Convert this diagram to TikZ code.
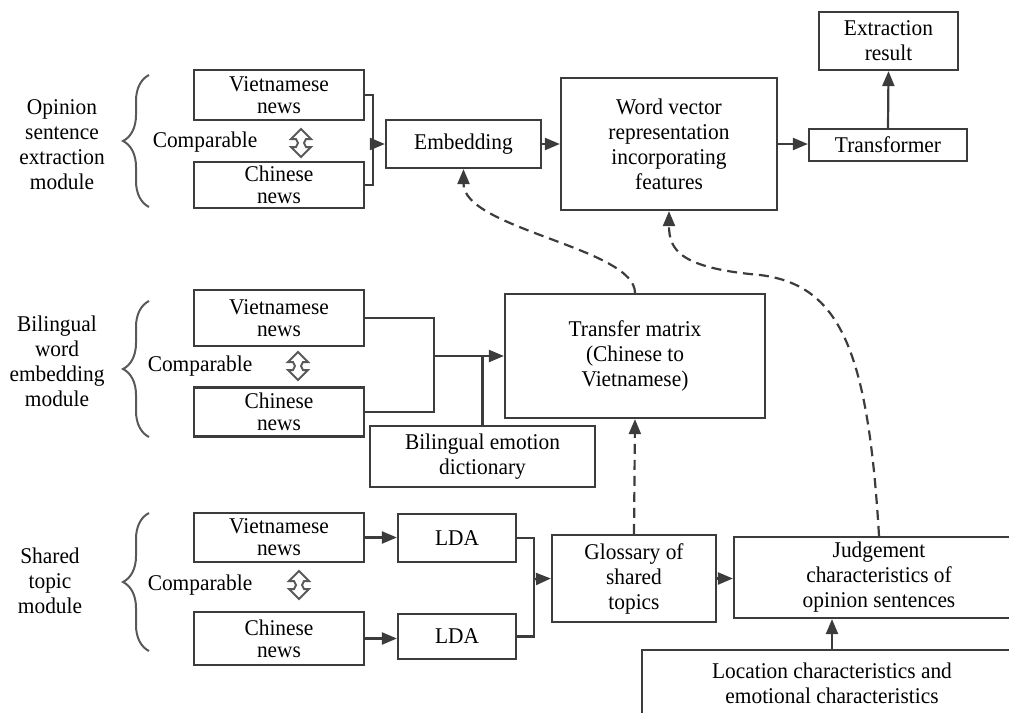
\documentclass[tikz,border=0pt]{standalone}
\usepackage{fontspec}
\setmainfont{Liberation Serif}[FakeStretch=0.95]
\usetikzlibrary{arrows.meta,decorations.pathreplacing,calc}
\definecolor{lc}{HTML}{3C3C3C}
\begin{document}
\begin{tikzpicture}[x=1pt,y=1pt,
  font=\fontsize{22.5}{25}\selectfont,
  box/.style={draw=lc,line width=2.2pt,align=center,inner sep=0pt},
  newsbox/.style={box,minimum width=170,font=\fontsize{22.5}{22}\selectfont},
  lab/.style={align=center,inner sep=0pt},
  conn/.style={draw=lc,line width=2.2pt},
  arr/.style={conn,-{Triangle[length=15pt,width=12pt]}},
  dasharr/.style={arr,dash pattern=on 10pt off 6pt},
  brc/.style={draw=lc!85,line width=2pt,decorate,decoration={brace,amplitude=26pt}},
  cmp/.pic={\draw[draw=lc!85,line width=2pt,line join=miter]
      (0,14)--(10,4)--(5,4)--(3,0)--(5,-4)--(10,-4)--(0,-14)--(-10,-4)--(-5,-4)--(-3,0)--(-5,4)--(-10,4)--cycle;}
]
\useasboundingbox (0,0) rectangle (1009,-712);
\clip (0,0) rectangle (1009,-712);

% ---------- module labels and braces
\node[lab] (lab1) at (62,-145) {Opinion\\sentence\\extraction\\module};
\node[lab] (lab2) at (57,-361) {Bilingual\\word\\embedding\\module};
\node[lab] (lab3) at (50,-581) {Shared\\topic\\module};
\draw[brc] (149,-207) -- (149,-75);
\draw[brc] (149,-437) -- (149,-301);
\draw[brc] (149,-651) -- (149,-513);

% ---------- comparable
\node[lab] (cp1) at (205,-142) {Comparable};
\node[lab] (cp2) at (200,-366) {Comparable};
\node[lab] (cp3) at (200,-585) {Comparable};
\pic at (301,-143) {cmp};
\pic at (298,-366) {cmp};
\pic at (299,-585) {cmp};

% ---------- top row
\node[newsbox,minimum height=50] (v1) at (279,-95) {Vietnamese\\news};
\node[newsbox,minimum height=46] (c1) at (279,-185) {Chinese\\news};
\node[box,minimum width=155,minimum height=48] (emb) at (463.5,-144) {Embedding};
\node[box,minimum width=216,minimum height=132] (wv) at (669,-144) {Word vector\\representation\\incorporating\\features};
\node[box,minimum width=158,minimum height=32] (tr) at (888,-145) {Transformer};
\node[box,minimum width=139,minimum height=58] (er) at (888.5,-41) {Extraction\\result};

% ---------- middle row
\node[newsbox,minimum height=56] (v2) at (279,-318) {Vietnamese\\news};
\node[newsbox,minimum height=49] (c2) at (279,-412) {Chinese\\news};
\node[box,minimum width=260,minimum height=124] (tm) at (635,-356) {Transfer matrix\\(Chinese to\\Vietnamese)};
\node[box,minimum width=225,minimum height=61] (bed) at (482.5,-456.5) {Bilingual emotion\\dictionary};

% ---------- bottom row
\node[newsbox,minimum height=49] (v3) at (279,-537.5) {Vietnamese\\news};
\node[newsbox,minimum height=53] (c3) at (279,-638.5) {Chinese\\news};
\node[box,minimum width=118,minimum height=48] (lda1) at (457,-538) {LDA};
\node[box,minimum width=118,minimum height=45] (lda2) at (457,-636.5) {LDA};
\node[box,minimum width=164,minimum height=87] (gl) at (634,-578.5) {Glossary of\\shared\\topics};
\node[box,minimum width=290,minimum height=81] (jd) at (879,-577.5) {Judgement\\characteristics of\\opinion sentences};
\node[box,minimum width=380,minimum height=66] (loc) at (832,-683) {Location characteristics and\\emotional characteristics};

% ---------- connectors top
\coordinate (m1) at (373,-144);
\draw[conn] (v1.east) -| (m1);
\draw[conn] (c1.east) -| (m1);
\draw[arr] (m1) -- (emb.west);
\draw[arr] (emb.east) -- (wv.west);
\draw[arr] (wv.east) -- (wv.east -| tr.west);
\draw[arr] (tr.north) -- (er.south);

% ---------- connectors middle
\coordinate (m2) at (434,-356);
\draw[conn] (v2.east) -| (m2);
\draw[conn] (c2.east) -| (m2);
\draw[arr] (m2) -- (tm.west);
\draw[conn] (bed.north) -- (bed.north |- tm.west);

% ---------- connectors bottom
\draw[arr] (v3.east) -- (v3.east -| lda1.west);
\draw[arr] (c3.east) -- (c3.east -| lda2.west);
\coordinate (m3) at (534,-579);
\draw[conn] (lda1.east) -| (m3);
\draw[conn] (lda2.east) -| (m3);
\draw[arr] (m3) -- (gl.west);
\draw[arr] (gl.east) -- (gl.east -| jd.west);
\draw[arr] (loc.north) -- (loc.north |- jd.south);

% ---------- dashed feedback
\draw[dasharr] (gl.north) -- (tm.south);
\draw[dasharr] (tm.north) .. controls +(0,45) and +(0,-60) .. (emb.south);
\coordinate (jv) at (760,-275);
\draw[dasharr] (jd.north) .. controls (868,-350) and (840,-285) .. (jv)
               .. controls (680,-268) and (669,-250) .. (wv.south);
\end{tikzpicture}
\end{document}
